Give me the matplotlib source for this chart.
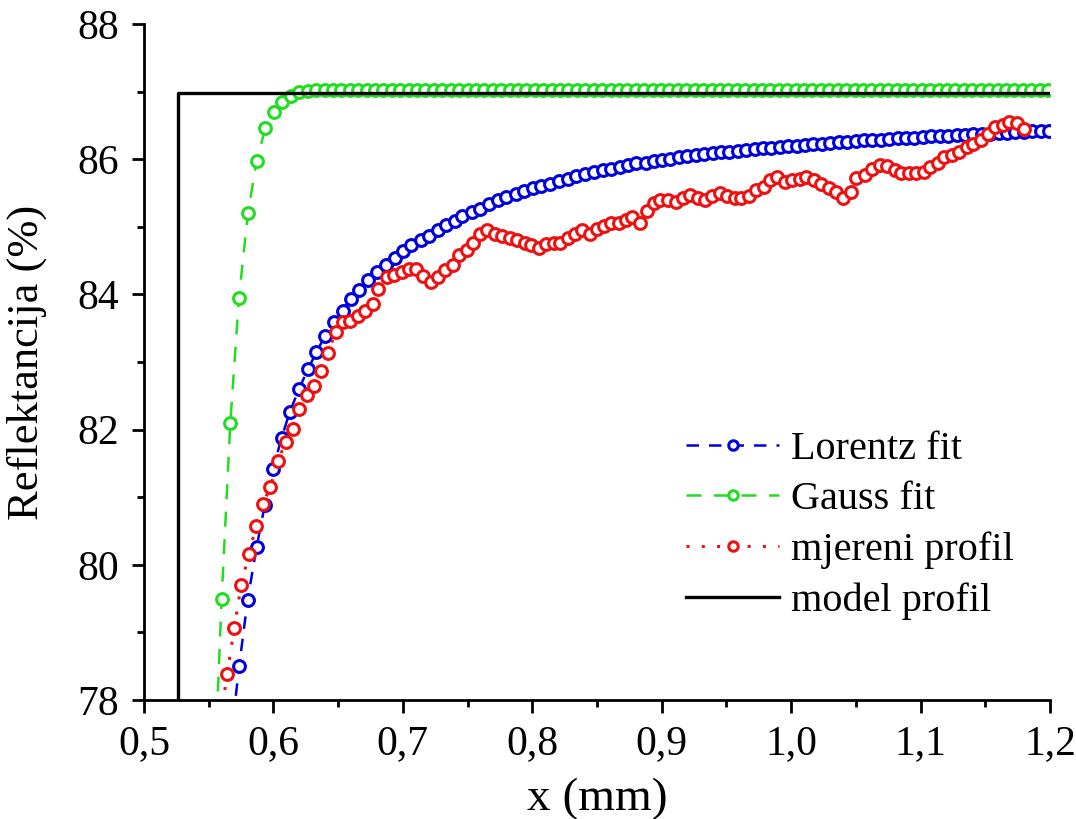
import matplotlib
matplotlib.use("Agg")
import matplotlib.pyplot as plt
from matplotlib.ticker import MultipleLocator

plt.rcParams['font.family'] = ['Liberation Serif', 'DejaVu Serif']

# Lorentz fit (blue)
lorentz_x = [0.5671, 0.5736, 0.5801, 0.5870, 0.5934, 0.5999, 0.6063, 0.6127, 0.6197, 0.6269,
             0.6333, 0.6398, 0.6467, 0.6534, 0.6596, 0.6663, 0.6732, 0.6797, 0.6869, 0.6938,
             0.7002, 0.7067, 0.7137, 0.7203, 0.7273, 0.7337, 0.7400, 0.7461, 0.7531, 0.7600,
             0.7666, 0.7736, 0.7801, 0.7873, 0.7934, 0.8006, 0.8071, 0.8135, 0.8207, 0.8277,
             0.8341, 0.8411, 0.8475, 0.8547, 0.8612, 0.8676, 0.8740, 0.8805, 0.8876, 0.8938,
             0.9003, 0.9068, 0.9133, 0.9198, 0.9263, 0.9328, 0.9393, 0.9458, 0.9523, 0.9588,
             0.9653, 0.9718, 0.9783, 0.9848, 0.9913, 0.9978, 1.0043, 1.0108, 1.0173, 1.0238,
             1.0303, 1.0368, 1.0433, 1.0498, 1.0563, 1.0628, 1.0693, 1.0758, 1.0823, 1.0888,
             1.0953, 1.1018, 1.1083, 1.1148, 1.1213, 1.1278, 1.1343, 1.1408, 1.1473, 1.1538,
             1.1603, 1.1668, 1.1733, 1.1798, 1.1863, 1.1928, 1.1993]
lorentz_y = [77.40, 78.51, 79.48, 80.26, 80.89, 81.42, 81.88, 82.26, 82.60, 82.90,
             83.15, 83.38, 83.59, 83.76, 83.93, 84.07, 84.21, 84.33, 84.44, 84.54,
             84.64, 84.73, 84.80, 84.87, 84.95, 85.02, 85.09, 85.16, 85.22, 85.27,
             85.33, 85.39, 85.44, 85.49, 85.53, 85.57, 85.60, 85.64, 85.68, 85.71,
             85.75, 85.78, 85.81, 85.84, 85.86, 85.89, 85.91, 85.94, 85.95, 85.97,
             85.99, 86.01, 86.03, 86.04, 86.06, 86.07, 86.09, 86.10, 86.11, 86.12,
             86.14, 86.15, 86.16, 86.17, 86.18, 86.19, 86.20, 86.21, 86.22, 86.23,
             86.24, 86.25, 86.26, 86.27, 86.28, 86.28, 86.29, 86.30, 86.31, 86.32,
             86.32, 86.33, 86.34, 86.34, 86.35, 86.36, 86.36, 86.37, 86.37, 86.38,
             86.39, 86.39, 86.40, 86.40, 86.41, 86.41, 86.42]

# Gauss fit (green)
gauss_x = [0.5536, 0.5600, 0.5667, 0.5734, 0.5803, 0.5870, 0.5938, 0.6003, 0.6068, 0.6134,
           0.6200, 0.6265, 0.6330, 0.6395, 0.6460, 0.6525, 0.6590, 0.6655, 0.6720, 0.6785,
           0.6850, 0.6915, 0.6980, 0.7045, 0.7110, 0.7175, 0.7240, 0.7305, 0.7370, 0.7435,
           0.7500, 0.7565, 0.7630, 0.7695, 0.7760, 0.7825, 0.7890, 0.7955, 0.8020, 0.8085,
           0.8150, 0.8215, 0.8280, 0.8345, 0.8410, 0.8475, 0.8540, 0.8605, 0.8670, 0.8735,
           0.8800, 0.8865, 0.8930, 0.8995, 0.9060, 0.9125, 0.9190, 0.9255, 0.9320, 0.9385,
           0.9450, 0.9515, 0.9580, 0.9645, 0.9710, 0.9775, 0.9840, 0.9905, 0.9970, 1.0035,
           1.0100, 1.0165, 1.0230, 1.0295, 1.0360, 1.0425, 1.0490, 1.0555, 1.0620, 1.0685,
           1.0750, 1.0815, 1.0880, 1.0945, 1.1010, 1.1075, 1.1140, 1.1205, 1.1270, 1.1335,
           1.1400, 1.1465, 1.1530, 1.1595, 1.1660, 1.1725, 1.1790, 1.1855, 1.1920, 1.1985]
gauss_y = [76.50, 79.49, 82.10, 83.95, 85.20, 85.97, 86.46, 86.70, 86.85, 86.94,
           86.99, 87.01, 87.02, 87.03, 87.03, 87.03, 87.03, 87.03, 87.03, 87.03,
           87.03, 87.03, 87.03, 87.03, 87.03, 87.03, 87.03, 87.03, 87.03, 87.03,
           87.03, 87.03, 87.03, 87.03, 87.03, 87.03, 87.03, 87.03, 87.03, 87.03,
           87.03, 87.03, 87.03, 87.03, 87.03, 87.03, 87.03, 87.03, 87.03, 87.03,
           87.03, 87.03, 87.03, 87.03, 87.03, 87.03, 87.03, 87.03, 87.03, 87.03,
           87.03, 87.03, 87.03, 87.03, 87.03, 87.03, 87.03, 87.03, 87.03, 87.03,
           87.03, 87.03, 87.03, 87.03, 87.03, 87.03, 87.03, 87.03, 87.03, 87.03,
           87.03, 87.03, 87.03, 87.03, 87.03, 87.03, 87.03, 87.03, 87.03, 87.03,
           87.03, 87.03, 87.03, 87.03, 87.03, 87.03, 87.03, 87.03, 87.03, 87.03]

# measured profile (red)
mjereni_x = [0.5590, 0.5643, 0.5697, 0.5751, 0.5811, 0.5865, 0.5917, 0.5976, 0.6035, 0.6094,
             0.6148, 0.6199, 0.6256, 0.6313, 0.6370, 0.6423, 0.6480, 0.6534, 0.6591, 0.6650,
             0.6707, 0.6771, 0.6810, 0.6874, 0.6931, 0.6990, 0.7046, 0.7100, 0.7157, 0.7214,
             0.7270, 0.7327, 0.7384, 0.7435, 0.7492, 0.7543, 0.7595, 0.7654, 0.7710, 0.7770,
             0.7826, 0.7883, 0.7942, 0.7994, 0.8050, 0.8110, 0.8166, 0.8218, 0.8277, 0.8328,
             0.8388, 0.8444, 0.8500, 0.8558, 0.8612, 0.8668, 0.8722, 0.8774, 0.8830, 0.8887,
             0.8940, 0.8990, 0.9049, 0.9108, 0.9165, 0.9222, 0.9280, 0.9337, 0.9391, 0.9448,
             0.9504, 0.9564, 0.9615, 0.9674, 0.9731, 0.9788, 0.9839, 0.9890, 0.9950, 1.0009,
             1.0066, 1.0117, 1.0174, 1.0233, 1.0292, 1.0349, 1.0400, 1.0460, 1.0503, 1.0568,
             1.0627, 1.0683, 1.0740, 1.0799, 1.0851, 1.0910, 1.0967, 1.1023, 1.1075, 1.1134,
             1.1185, 1.1242, 1.1301, 1.1357, 1.1409, 1.1469, 1.1520, 1.1579, 1.1636, 1.1687,
             1.1744, 1.1803]
mjereni_y = [77.70, 78.38, 79.06, 79.70, 80.16, 80.57, 80.90, 81.15, 81.54, 81.81,
             82.01, 82.31, 82.51, 82.64, 82.87, 83.14, 83.45, 83.59, 83.60, 83.68,
             83.76, 83.86, 84.08, 84.26, 84.29, 84.33, 84.37, 84.38, 84.27, 84.19,
             84.26, 84.36, 84.43, 84.58, 84.66, 84.76, 84.90, 84.95, 84.90, 84.86,
             84.83, 84.81, 84.76, 84.73, 84.68, 84.75, 84.76, 84.76, 84.83, 84.90,
             84.95, 84.90, 84.97, 85.01, 85.05, 85.05, 85.10, 85.14, 85.05, 85.24,
             85.35, 85.40, 85.39, 85.37, 85.42, 85.47, 85.42, 85.39, 85.45, 85.50,
             85.45, 85.43, 85.42, 85.45, 85.54, 85.59, 85.69, 85.73, 85.66, 85.69,
             85.71, 85.74, 85.69, 85.64, 85.57, 85.52, 85.42, 85.52, 85.72, 85.76,
             85.85, 85.91, 85.90, 85.84, 85.80, 85.79, 85.79, 85.81, 85.88, 85.95,
             86.03, 86.06, 86.11, 86.18, 86.23, 86.28, 86.38, 86.47, 86.50, 86.55,
             86.53, 86.45]

# model profile (step)
model_x = [0.5263, 0.5263, 1.2]
model_y = [70.0, 86.98, 86.98]

x_ticks = [0.5, 0.6, 0.7, 0.8, 0.9, 1.0, 1.1, 1.2]
x_tick_labels = ['0,5', '0,6', '0,7', '0,8', '0,9', '1,0', '1,1', '1,2']
y_ticks = [78, 80, 82, 84, 86, 88]

fig = plt.figure(figsize=(10.76, 8.19), dpi=100)
ax = fig.add_axes([0.1338, 0.1453, 0.842, 0.8254])

mk = dict(marker='o', markersize=8.5, markeredgewidth=2.2, markerfacecolor='white')
ax.plot(lorentz_x, lorentz_y, color='#0000dd', linestyle=(0, (5, 4)), linewidth=1.8,
        markeredgecolor='#0000dd', label='Lorentz fit', **mk)
ax.plot(gauss_x, gauss_y, color='#22dd22', linestyle=(0, (6, 5)), linewidth=1.8,
        markeredgecolor='#22dd22', label='Gauss fit', **mk)
ax.plot(mjereni_x, mjereni_y, color='#ee1111', linestyle=(0, (1, 4)), linewidth=2.2,
        markeredgecolor='#ee1111', label='mjereni profil', **mk)
ax.plot(model_x, model_y, color='black', linewidth=2.4, label='model profil')

ax.set_xlim(0.5, 1.2)
ax.set_ylim(78, 88)
ax.set_xticks(x_ticks)
ax.set_xticklabels(x_tick_labels)
ax.set_yticks(y_ticks)
ax.xaxis.set_minor_locator(MultipleLocator(0.05))
ax.yaxis.set_minor_locator(MultipleLocator(1))

for s in ['top', 'right']:
    ax.spines[s].set_visible(False)
for s in ['left', 'bottom']:
    ax.spines[s].set_linewidth(2)

ax.tick_params(which='major', direction='out', length=9, width=2, labelsize=30, pad=9)
ax.tick_params(which='minor', direction='out', length=5, width=2)

ax.set_xlabel('x (mm)', fontsize=34, labelpad=10)
ax.set_ylabel('Reflektancija (%)', fontsize=32, labelpad=22)

ax.legend(loc='lower right', bbox_to_anchor=(1.0, 0.065), frameon=False, fontsize=29,
          handlelength=2.3, handletextpad=0.3, labelspacing=0.33, markerscale=0.8)

fig.savefig('out.png', dpi=100)
